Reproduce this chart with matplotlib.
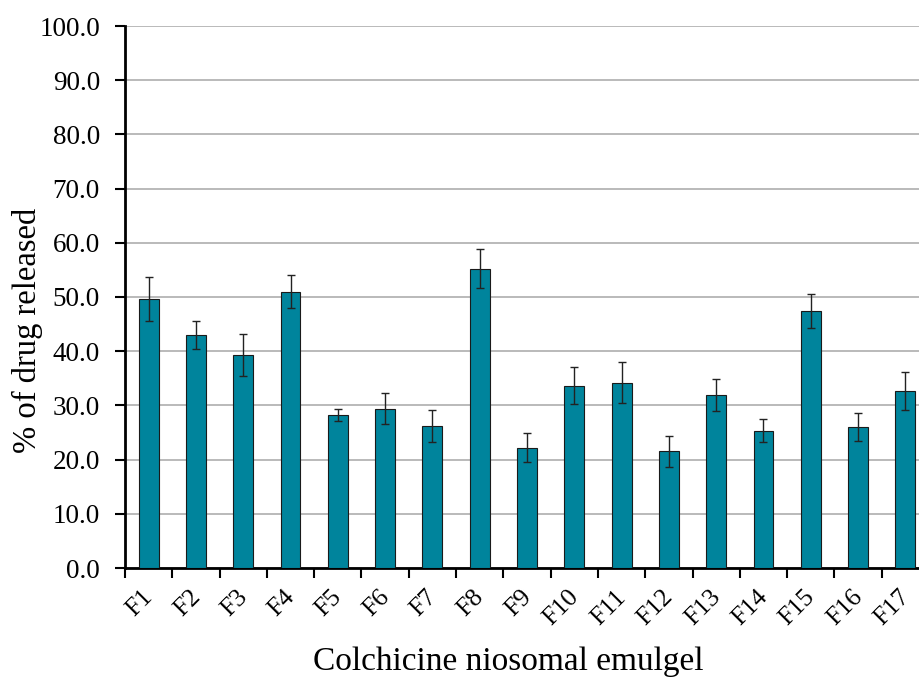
import matplotlib.pyplot as plt
import matplotlib.transforms as mtransforms
import numpy as np

formulations = ["F1", "F2", "F3", "F4", "F5", "F6", "F7", "F8", "F9",
                "F10", "F11", "F12", "F13", "F14", "F15", "F16", "F17"]
released = [49.6, 43.0, 39.3, 51.0, 28.3, 29.4, 26.2, 55.2, 22.2,
            33.6, 34.2, 21.5, 31.9, 25.3, 47.4, 26.0, 32.7]
errors = [4.0, 2.6, 3.8, 3.1, 1.1, 2.8, 2.9, 3.6, 2.7,
          3.4, 3.8, 2.8, 2.9, 2.1, 3.2, 2.6, 3.5]

plt.rcParams["font.family"] = ["Liberation Serif", "DejaVu Serif"]

fig = plt.figure(figsize=(9.19, 6.82), dpi=100)
# right edge runs slightly past the figure, as in the cropped original
ax = fig.add_axes([125 / 919, 1 - 568 / 682, 804 / 919, 542 / 682])

x = np.arange(len(formulations))
ax.bar(x, released, width=0.42, color="#00849c", edgecolor="#1a1a1a",
       linewidth=0.8, zorder=3)
ax.errorbar(x, released, yerr=errors, fmt="none", ecolor="#222222",
            elinewidth=1.0, capsize=3, capthick=1.0, zorder=4)

ax.set_xlim(-0.5, len(formulations) - 0.5)
ax.set_ylim(0, 100)
ax.set_yticks(np.arange(0, 101, 10))
ax.set_yticklabels([f"{v:.1f}" for v in np.arange(0, 101, 10)], fontsize=19.5)
ax.yaxis.grid(True, color="#b4b4b4", linewidth=1.3, zorder=0)
ax.set_axisbelow(True)

# Excel-style ticks between categories
ax.set_xticks(np.arange(-0.5, len(formulations), 1.0))
ax.set_xticklabels([])
ax.set_xticks(x, minor=True)
ax.set_xticklabels(formulations, minor=True, rotation=45, ha="right",
                   rotation_mode="anchor", fontsize=18.5)
ax.tick_params(axis="x", which="minor", length=0, pad=13)
ax.tick_params(axis="x", which="major", length=7, width=1.5, direction="out")
ax.tick_params(axis="y", length=7, width=1.5, direction="out", pad=11)
shift = mtransforms.ScaledTranslation(-7 / 100, 0, fig.dpi_scale_trans)
for lbl in ax.get_xticklabels(minor=True):
    lbl.set_transform(lbl.get_transform() + shift)

for side in ["top", "right"]:
    ax.spines[side].set_visible(False)
ax.spines["left"].set_linewidth(2)
ax.spines["bottom"].set_linewidth(2)

ax.set_ylabel("% of drug released", fontsize=23.5)
ax.set_xlabel("Colchicine niosomal emulgel", fontsize=24)
ax.yaxis.set_label_coords(27 / 919, 1 - 330 / 682, transform=fig.transFigure)
ax.yaxis.label.set_va("center")
ax.xaxis.label.set_va("center")
ax.xaxis.set_label_coords(508 / 919, 20 / 682, transform=fig.transFigure)

fig.savefig("out.png", dpi=100)
